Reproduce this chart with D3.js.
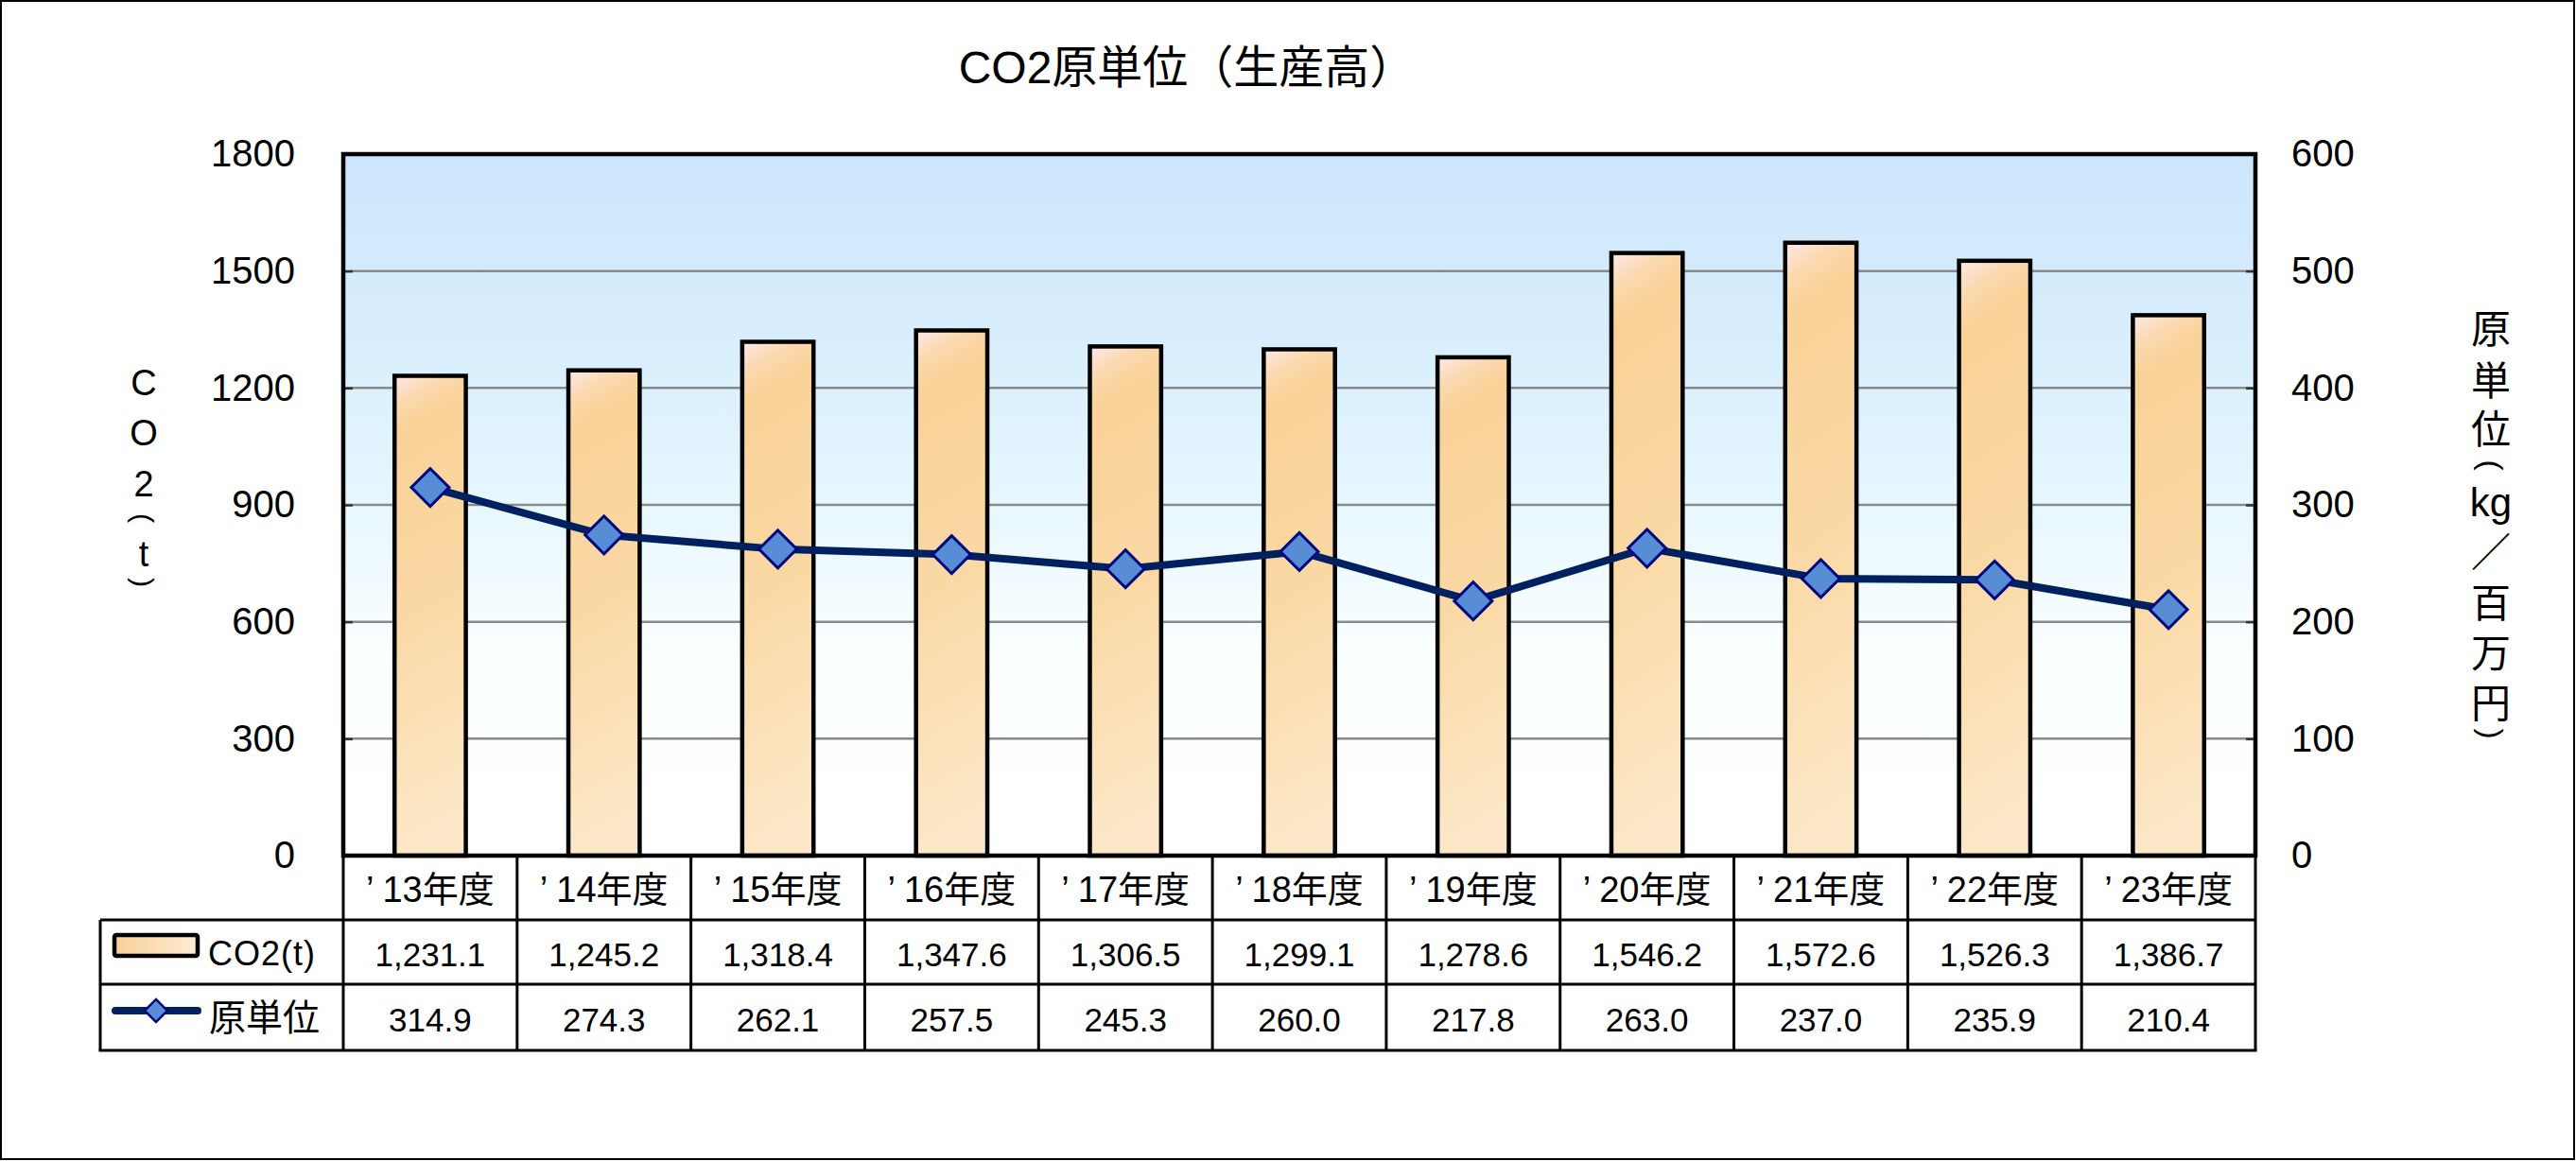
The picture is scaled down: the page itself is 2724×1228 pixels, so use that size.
<!DOCTYPE html>
<html>
<head>
<meta charset="utf-8">
<script src="https://cdn.jsdelivr.net/npm/d3@7"></script>
<style>
html,body{margin:0;padding:0;background:#fff;}
svg{display:block;}
text{font-family:"Liberation Sans","Noto Sans CJK JP",sans-serif;fill:#000;}
</style>
</head>
<body>
<svg id="chart" width="2724" height="1228"></svg>
<script>
// ---- data ----
const categories = ["’13年度","’14年度","’15年度","’16年度","’17年度","’18年度","’19年度","’20年度","’21年度","’22年度","’23年度"];
const co2Values = [1231.1, 1245.2, 1318.4, 1347.6, 1306.5, 1299.1, 1278.6, 1546.2, 1572.6, 1526.3, 1386.7];
const intensityValues = [314.9, 274.3, 262.1, 257.5, 245.3, 260.0, 217.8, 263.0, 237.0, 235.9, 210.4];
const leftTicks = [0, 300, 600, 900, 1200, 1500, 1800];
const rightTicks = [0, 100, 200, 300, 400, 500, 600];
const seriesNames = ["CO2(t)", "原単位"];
const titleText = "CO2原単位（生産高）";
const leftTitleChars = ["C","O","2","(","t",")"];
const rightTitleChars = ["原","単","位","(","kg","／","百","万","円",")"];

// ---- layout ----
const W = 2724, H = 1228;
const L = 363, R = 2385, T = 163, B = 905;
const tableLeft = 106, row1B = 973, row2B = 1041, row3B = 1111;

const svg = d3.select("#chart");
const defs = svg.append("defs");

const bg = defs.append("linearGradient").attr("id","bgGrad").attr("x1",0).attr("y1",0).attr("x2",0).attr("y2",1);
[[0,"#cce5fb"],[0.45,"#e2f5fe"],[0.72,"#fbffff"],[1,"#ffffff"]].forEach(s=>bg.append("stop").attr("offset",s[0]).attr("stop-color",s[1]));

const barG = defs.append("linearGradient").attr("id","barGrad").attr("x1",0).attr("y1",0).attr("x2",0.08).attr("y2",1);
[[0,"#fde9ea"],[0.06,"#fbd9b0"],[0.12,"#f9d298"],[0.5,"#fad8a4"],[1,"#fce8c8"]].forEach(s=>barG.append("stop").attr("offset",s[0]).attr("stop-color",s[1]));

const legG = defs.append("linearGradient").attr("id","legGrad").attr("x1",0).attr("y1",0).attr("x2",1).attr("y2",0);
[[0,"#f9d197"],[1,"#fdecd4"]].forEach(s=>legG.append("stop").attr("offset",s[0]).attr("stop-color",s[1]));

// outer border
svg.append("rect").attr("x",1).attr("y",1).attr("width",W-3).attr("height",H-3)
  .attr("fill","#fff").attr("stroke","#000").attr("stroke-width",2);

// scales
const x = d3.scaleBand().domain(categories).range([L, R]).paddingInner(0.59).paddingOuter(0.295);
const yL = d3.scaleLinear().domain([0, 1800]).range([B, T]);
const yR = d3.scaleLinear().domain([0, 600]).range([B, T]);
const cx = c => x(c) + x.bandwidth()/2;

// plot background
svg.append("rect").attr("x",L).attr("y",T).attr("width",R-L).attr("height",B-T).attr("fill","url(#bgGrad)");

// gridlines
svg.append("g").selectAll("line").data(leftTicks.filter(d=>d>0 && d<1800)).join("line")
  .attr("x1",L).attr("x2",R).attr("y1",d=>yL(d)).attr("y2",d=>yL(d))
  .attr("stroke","#8a8a8a").attr("stroke-width",2.5);

// left axis (ticks inside)
const axL = svg.append("g").attr("transform",`translate(${L},0)`)
  .call(d3.axisLeft(yL).tickValues(leftTicks).tickSize(-10).tickPadding(51).tickFormat(d3.format("d")));
axL.select(".domain").remove();
axL.selectAll(".tick line").attr("stroke","#333").attr("stroke-width",2.5);
axL.selectAll(".tick text").attr("font-size",40).attr("fill","#000")
  .style("font-family",'"Liberation Sans","Noto Sans CJK JP",sans-serif');

const axR = svg.append("g").attr("transform",`translate(${R},0)`)
  .call(d3.axisRight(yR).tickValues(rightTicks).tickSize(-10).tickPadding(38).tickFormat(d3.format("d")));
axR.select(".domain").remove();
axR.selectAll(".tick line").attr("stroke","#333").attr("stroke-width",2.5);
axR.selectAll(".tick text").attr("font-size",40).attr("fill","#000")
  .style("font-family",'"Liberation Sans","Noto Sans CJK JP",sans-serif');

// bars
svg.append("g").selectAll("rect").data(categories).join("rect")
  .attr("x",c=>x(c)).attr("width",x.bandwidth())
  .attr("y",(c,i)=>yL(co2Values[i])).attr("height",(c,i)=>yL(0)-yL(co2Values[i]))
  .attr("fill","url(#barGrad)").attr("stroke","#000").attr("stroke-width",4.5);

// line
const line = d3.line().x((d,i)=>cx(categories[i])).y(d=>yR(d));
svg.append("path").datum(intensityValues).attr("d",line)
  .attr("fill","none").attr("stroke","#00205f").attr("stroke-width",8).attr("stroke-linejoin","round");

const diamond = d3.symbol().type(d3.symbolSquare).size(800);
svg.append("g").selectAll("path").data(intensityValues).join("path")
  .attr("d",diamond)
  .attr("transform",(d,i)=>`translate(${cx(categories[i])},${yR(d)}) rotate(45)`)
  .attr("fill","#588dd5").attr("stroke","#000a80").attr("stroke-width",3);

// plot border
svg.append("rect").attr("x",L).attr("y",T).attr("width",R-L).attr("height",B-T)
  .attr("fill","none").attr("stroke","#000").attr("stroke-width",4.5);

// ---- data table ----
const tg = svg.append("g").attr("stroke","#000").attr("stroke-width",3);
const bounds = categories.map(c => x(c) - x.step()*x.paddingInner()/2);
bounds.push(R);
bounds.forEach(bx=>{
  tg.append("line").attr("x1",bx).attr("x2",bx).attr("y1",B).attr("y2",row3B);
});
tg.append("line").attr("x1",tableLeft).attr("x2",tableLeft).attr("y1",row1B).attr("y2",row3B);
tg.append("line").attr("x1",tableLeft).attr("x2",R).attr("y1",row1B).attr("y2",row1B);
tg.append("line").attr("x1",tableLeft).attr("x2",R).attr("y1",row2B).attr("y2",row2B);
tg.append("line").attr("x1",tableLeft-1.5).attr("x2",R+1.5).attr("y1",row3B).attr("y2",row3B);

// category labels
const catText = svg.append("g").selectAll("text").data(categories).join("text")
  .attr("x",c=>cx(c)).attr("y",(B+row1B)/2+2).attr("text-anchor","middle")
  .attr("dominant-baseline","central").attr("font-size",38);
catText.append("tspan").text(c=>c[0]);
catText.append("tspan").attr("dx",9).text(c=>c.slice(1));

const fmtCO2 = d3.format(",.1f"), fmtInt = d3.format(".1f");
svg.append("g").selectAll("text").data(co2Values).join("text")
  .attr("x",(d,i)=>cx(categories[i])).attr("y",(row1B+row2B)/2+2)
  .attr("text-anchor","middle").attr("dominant-baseline","central").attr("font-size",35)
  .text(d=>fmtCO2(d));
svg.append("g").selectAll("text").data(intensityValues).join("text")
  .attr("x",(d,i)=>cx(categories[i])).attr("y",(row2B+row3B)/2+2)
  .attr("text-anchor","middle").attr("dominant-baseline","central").attr("font-size",35)
  .text(d=>fmtInt(d));

// legend in table
svg.append("rect").attr("x",121).attr("y",989).attr("width",88).attr("height",22).attr("rx",2)
  .attr("fill","url(#legGrad)").attr("stroke","#000").attr("stroke-width",4.5);
svg.append("text").attr("x",220).attr("y",1008).attr("dominant-baseline","central")
  .attr("font-size",36).attr("letter-spacing",1).text(seriesNames[0]);
svg.append("line").attr("x1",122).attr("x2",209).attr("y1",1069).attr("y2",1069)
  .attr("stroke","#00205f").attr("stroke-width",8).attr("stroke-linecap","round");
svg.append("path").attr("d",d3.symbol().type(d3.symbolSquare).size(290)())
  .attr("transform","translate(165,1069) rotate(45)")
  .attr("fill","#588dd5").attr("stroke","#000a80").attr("stroke-width",2.5);
svg.append("text").attr("x",221).attr("y",1076).attr("dominant-baseline","central")
  .attr("font-size",39).text(seriesNames[1]);

// title
svg.append("text").attr("x",1255).attr("y",71).attr("text-anchor","middle")
  .attr("dominant-baseline","central").attr("font-size",48).text(titleText);

// axis titles (vertical, one glyph per line; parentheses turned for vertical setting)
const isParen = d => d === "(" || d === ")";
function vTitle(chars, xc, ys, size){
  svg.append("g").selectAll("text").data(chars).join("text")
    .attr("text-anchor","middle").attr("dominant-baseline","central")
    .attr("font-size",(d)=>isParen(d)?size*0.8:size)
    .attr("transform",(d,i)=>`translate(${xc},${ys[i]})` + (isParen(d)?" rotate(90)":""))
    .text(d=>d);
}
vTitle(leftTitleChars, 152, [405, 458, 512, 548, 586, 616], 38);
vTitle(rightTitleChars, 2634, [348, 403, 454, 492, 531, 584, 638, 691, 744, 776], 42);
</script>
</body>
</html>
